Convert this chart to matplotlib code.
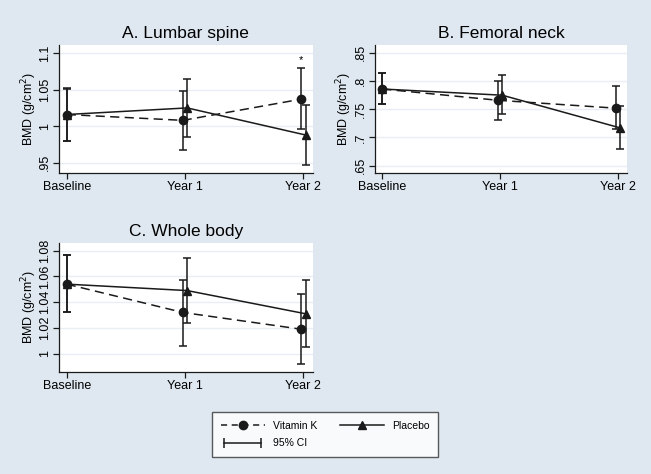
import numpy as np
import matplotlib.pyplot as plt
from matplotlib.lines import Line2D
from matplotlib.legend_handler import HandlerLine2D

plt.rcParams['font.family'] = ['Liberation Sans', 'DejaVu Sans']

visits = ['Baseline', 'Year 1', 'Year 2']

# A. Lumbar spine
lumbar_vitk = [1.016, 1.008, 1.037]
lumbar_vitk_lo = [0.980, 0.968, 0.996]
lumbar_vitk_hi = [1.052, 1.048, 1.080]
lumbar_plac = [1.016, 1.025, 0.988]
lumbar_plac_lo = [0.980, 0.985, 0.947]
lumbar_plac_hi = [1.051, 1.064, 1.029]

# B. Femoral neck
neck_vitk = [0.786, 0.766, 0.752]
neck_vitk_lo = [0.760, 0.731, 0.715]
neck_vitk_hi = [0.814, 0.800, 0.792]
neck_plac = [0.786, 0.775, 0.717]
neck_plac_lo = [0.760, 0.741, 0.679]
neck_plac_hi = [0.814, 0.810, 0.755]

# C. Whole body
whole_vitk = [1.054, 1.032, 1.019]
whole_vitk_lo = [1.032, 1.006, 0.992]
whole_vitk_hi = [1.077, 1.057, 1.046]
whole_plac = [1.054, 1.049, 1.031]
whole_plac_lo = [1.032, 1.024, 1.005]
whole_plac_hi = [1.077, 1.074, 1.057]

panels = [
    ('A. Lumbar spine', lumbar_vitk, lumbar_vitk_lo, lumbar_vitk_hi,
     lumbar_plac, lumbar_plac_lo, lumbar_plac_hi,
     [0.95, 1.0, 1.05, 1.1], ['.95', '1', '1.05', '1.1'], (0.936, 1.111)),
    ('B. Femoral neck', neck_vitk, neck_vitk_lo, neck_vitk_hi,
     neck_plac, neck_plac_lo, neck_plac_hi,
     [0.65, 0.7, 0.75, 0.8, 0.85], ['.65', '.7', '.75', '.8', '.85'], (0.637, 0.864)),
    ('C. Whole body', whole_vitk, whole_vitk_lo, whole_vitk_hi,
     whole_plac, whole_plac_lo, whole_plac_hi,
     [1.0, 1.02, 1.04, 1.06, 1.08], ['1', '1.02', '1.04', '1.06', '1.08'], (0.986, 1.0857)),
]

bg = '#dfe8f1'
fig = plt.figure(figsize=(6.51, 4.74), dpi=100, facecolor=bg)
rects = [(0.0906, 0.635, 0.390, 0.270),
         (0.5753, 0.635, 0.3886, 0.270),
         (0.0906, 0.2158, 0.390, 0.2709)]

x = np.arange(len(visits))
off = np.array([0, 0.018, 0.018])

for rect, p in zip(rects, panels):
    title, vk, vlo, vhi, pl, plo, phi, yt, ytl, ylim = p
    ax = fig.add_axes(rect)
    ax.set_facecolor('white')
    vk, vlo, vhi = map(np.array, (vk, vlo, vhi))
    pl, plo, phi = map(np.array, (pl, plo, phi))
    ax.errorbar(x - off, vk, yerr=[vk - vlo, vhi - vk], fmt='none',
                ecolor='#1a1a1a', elinewidth=1.1, capsize=3, capthick=1.1, zorder=3)
    ax.errorbar(x + off, pl, yerr=[pl - plo, phi - pl], fmt='none',
                ecolor='#1a1a1a', elinewidth=1.1, capsize=3, capthick=1.1, zorder=3)
    ax.plot(x - off, vk, color='#1a1a1a', lw=1.1, dashes=(6, 3.5),
            marker='o', ms=6, zorder=4)
    ax.plot(x + off, pl, color='#1a1a1a', lw=1.1, marker='^', ms=6, zorder=4)
    ax.set_xlim(-0.065, 2.08)
    ax.set_ylim(*ylim)
    ax.set_xticks(x)
    ax.set_xticklabels(visits, fontsize=9)
    ax.set_yticks(yt)
    ax.set_yticklabels(ytl, fontsize=9, rotation=90, va='center')
    ax.grid(axis='y', color='#e8eef3', lw=1)
    ax.set_axisbelow(True)
    for s in ['top', 'right']:
        ax.spines[s].set_visible(False)
    for s in ['left', 'bottom']:
        ax.spines[s].set_color('#1a1a1a')
        ax.spines[s].set_linewidth(0.9)
    ax.tick_params(length=4, width=0.9, color='#1a1a1a', pad=2)
    ax.tick_params(axis='y', pad=1.5)
    ax.set_ylabel('BMD (g/cm$^2$)', fontsize=9, labelpad=0.5)
    ax.set_title(title, fontsize=12.5, pad=5)
    if title.startswith('A'):
        ax.text(2 - 0.018, 1.083, '*', ha='center', va='bottom', fontsize=8)

h_vk = Line2D([], [], color='#1a1a1a', lw=1.1, dashes=(4, 3), marker='o', ms=6)
h_pl = Line2D([], [], color='#1a1a1a', lw=1.1, marker='^', ms=6)
h_ci = Line2D([], [], color='#1a1a1a', lw=1.1, marker='|', ms=7, mew=1.1)
leg = fig.legend([h_vk, h_ci, h_pl], ['Vitamin K', '95% CI', 'Placebo'],
                 ncol=2, loc='center', bbox_to_anchor=(0.4995, 0.0835),
                 fontsize=7.5, frameon=True, fancybox=False, edgecolor='#333333',
                 handlelength=4.2, columnspacing=2.2, borderpad=0.8,
                 labelspacing=0.75,
                 handler_map={h_ci: HandlerLine2D(numpoints=2)})
leg.get_frame().set_linewidth(1.0)

fig.savefig('out.png', dpi=100, facecolor=bg)
